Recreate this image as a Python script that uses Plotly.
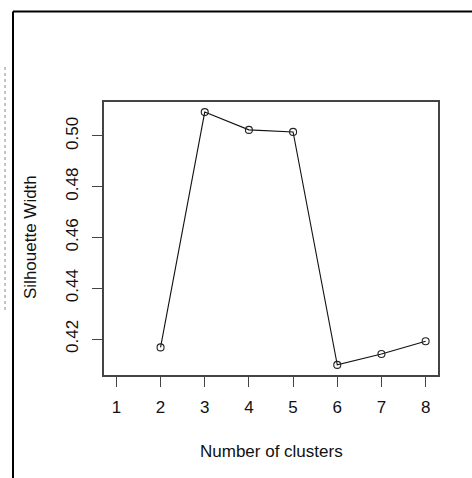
import plotly.graph_objects as go

clusters = [2, 3, 4, 5, 6, 7, 8]
silhouette = [0.4167, 0.5094, 0.5024, 0.5016, 0.4098, 0.4141, 0.4191]
x_ticks = [1, 2, 3, 4, 5, 6, 7, 8]
y_ticks = [0.42, 0.44, 0.46, 0.48, 0.50]
y_tick_text = ["0.42", "0.44", "0.46", "0.48", "0.50"]

W, H = 472, 478
ML, MR, MT, MB = 104, 34, 102, 103
PW, PH = W - ML - MR, H - MT - MB

def xp(px):
    return (px - ML) / PW

def yp(py):
    return (H - MB - py) / PH

# R-style 4% range extension
xmin, xmax = min(x_ticks), max(x_ticks)
xr = xmax - xmin
ymin, ymax = min(silhouette), max(silhouette)
yr = ymax - ymin

FONT = "Liberation Sans, Arial, sans-serif"
TXT = "#111111"

fig = go.Figure()
fig.add_trace(go.Scatter(
    x=clusters, y=silhouette, mode="lines+markers",
    line=dict(color="#111111", width=1.1),
    marker=dict(symbol="circle-open", size=7, color="#222222", line=dict(width=1.1)),
    showlegend=False, cliponaxis=False,
))

axis_common = dict(
    showline=True, mirror=True, linecolor="#444444", linewidth=1.6,
    ticks="outside", ticklen=10, tickwidth=1.4, tickcolor="#444444",
    showgrid=False, zeroline=False,
    tickfont=dict(family=FONT, size=17, color=TXT),
)

fig.update_layout(
    width=W, height=H, autosize=False,
    margin=dict(l=ML, r=MR, t=MT, b=MB, pad=0),
    paper_bgcolor="white", plot_bgcolor="white",
    xaxis=dict(range=[xmin - 0.04 * xr, xmax + 0.04 * xr],
               tickvals=x_ticks, ticklabelstandoff=6, **axis_common),
    yaxis=dict(range=[ymin - 0.04 * yr, ymax + 0.04 * yr],
               tickvals=y_ticks, ticktext=y_tick_text, tickangle=-90,
               ticklabelstandoff=7, **axis_common),
    annotations=[
        dict(text="Number of clusters", x=0.5, y=yp(451), xref="paper", yref="paper",
             showarrow=False, xanchor="center", yanchor="middle",
             font=dict(family=FONT, size=17, color=TXT)),
        dict(text="Silhouette Width", x=xp(30), y=yp(237), xref="paper", yref="paper",
             showarrow=False, xanchor="center", yanchor="middle", textangle=-90,
             font=dict(family=FONT, size=17, color=TXT)),
    ],
    shapes=[
        dict(type="line", xref="paper", yref="paper", x0=xp(13), x1=xp(472),
             y0=yp(11.5), y1=yp(11.5), line=dict(color="black", width=2)),
        dict(type="line", xref="paper", yref="paper", x0=xp(13), x1=xp(13),
             y0=yp(11.5), y1=yp(478), line=dict(color="black", width=2)),
        dict(type="line", xref="paper", yref="paper", x0=xp(5), x1=xp(5),
             y0=yp(67), y1=yp(313), line=dict(color="#888888", width=1, dash="dot")),
    ],
)

fig.write_html("out.html")
